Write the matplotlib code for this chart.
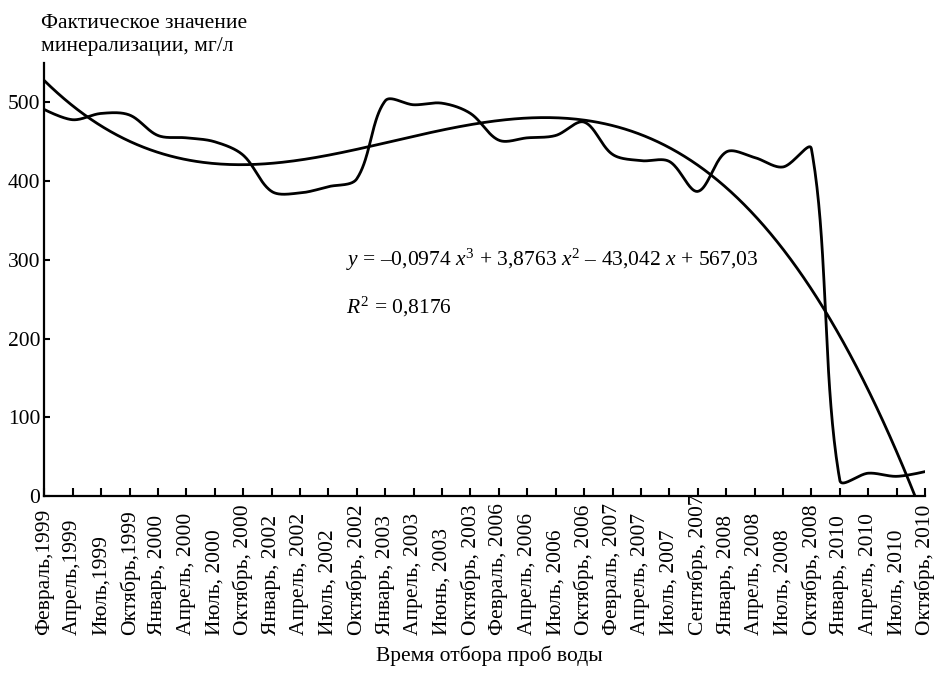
import numpy as np
import matplotlib

matplotlib.use("Agg")
import matplotlib.pyplot as plt

plt.rcParams["font.family"] = ["Liberation Serif", "DejaVu Serif"]
plt.rcParams["mathtext.fontset"] = "custom"
plt.rcParams["mathtext.rm"] = "Liberation Serif"
plt.rcParams["mathtext.it"] = "Liberation Serif:italic"

months = [
    "Февраль,1999", "Апрель,1999", "Июль,1999", "Октябрь,1999",
    "Январь, 2000", "Апрель, 2000", "Июль, 2000", "Октябрь, 2000",
    "Январь, 2002", "Апрель, 2002", "Июль, 2002", "Октябрь, 2002",
    "Январь, 2003", "Апрель, 2003", "Июнь, 2003", "Октябрь, 2003",
    "Февраль, 2006", "Апрель, 2006", "Июль, 2006", "Октябрь, 2006",
    "Февраль, 2007", "Апрель, 2007", "Июль, 2007", "Сентябрь, 2007",
    "Январь, 2008", "Апрель, 2008", "Июль, 2008", "Октябрь, 2008",
    "Январь, 2010", "Апрель, 2010", "Июль, 2010", "Октябрь, 2010",
]
mineralization = [
    491, 478, 486, 484, 458, 455, 450, 433,
    387, 385, 393, 403, 502, 497, 499, 486,
    452, 455, 458, 475, 434, 426, 425, 387,
    437, 430, 418, 441, 20, 29, 25, 31,
]
# trend line coefficients as printed on the chart (x = 1..n)
trend_coef = [-0.0974, 3.8763, -43.042, 567.03]
r_squared = "0,8176"

FONT = 15.5


def smooth(ax, xs, ys, steps=40):
    """Bezier curve through the points with tangents scaled by segment length
    (measured on screen), close to a smoothed spreadsheet line."""
    pts = ax.transData.transform(np.column_stack([xs, ys]))
    n = len(pts)
    out = []
    t = np.linspace(0, 1, steps)[:, None]
    for i in range(n - 1):
        p1, p2 = pts[i], pts[i + 1]
        p0 = pts[i - 1] if i > 0 else p1
        p3 = pts[i + 2] if i + 2 < n else p2
        d01 = np.hypot(*(p1 - p0))
        d12 = np.hypot(*(p2 - p1))
        d23 = np.hypot(*(p3 - p2))
        c1 = p1 + (p2 - p0) * d12 / (d01 + d12) / 3 if d01 > 0 else p1
        c2 = p2 - (p3 - p1) * d12 / (d12 + d23) / 3 if d23 > 0 else p2
        b = (1 - t) ** 3 * p1 + 3 * (1 - t) ** 2 * t * c1 + 3 * (1 - t) * t ** 2 * c2 + t ** 3 * p2
        out.append(b)
    out = ax.transData.inverted().transform(np.vstack(out))
    return out[:, 0], out[:, 1]


positions = np.arange(len(months))

fig = plt.figure(figsize=(9.36, 6.78), dpi=100)
ax = fig.add_axes([0.0473, 0.2684, 0.9410, 0.6386])
ax.set_xlim(0, len(months) - 1)
ax.set_ylim(0, 550)

sx, sy = smooth(ax, positions, mineralization)
ax.plot(sx, sy, color="black", linewidth=2.0)

trend_x = np.linspace(1, len(months), 400)
ax.plot(trend_x - 1, np.polyval(trend_coef, trend_x), color="black", linewidth=2.0)

ax.set_yticks([0, 100, 200, 300, 400, 500])
ax.set_xticks(positions)
# labels start on a common line below the axis and read upwards
ax.set_xticklabels(months, rotation=90, fontsize=FONT, va="bottom")
ax.tick_params(axis="x", direction="in", length=6, width=1.5, pad=100)
ax.tick_params(axis="y", direction="in", length=4.5, width=1.5, pad=3, labelsize=FONT)
for side in ("top", "right"):
    ax.spines[side].set_visible(False)
for side in ("left", "bottom"):
    ax.spines[side].set_linewidth(1.6)

fig.text(0.370, 0.6165, "$y$ = –0,0974 $x^3$ + 3,8763 $x^2$ – 43,042 $x$ + 567,03",
         fontsize=FONT, va="center")
fig.text(0.370, 0.547, "$R^2$ = " + r_squared, fontsize=FONT, va="center")

fig.text(0.044, 0.979, "Фактическое значение\nминерализации, мг/л",
         fontsize=FONT, va="top", ha="left", linespacing=1.3)
fig.text(0.523, 0.033, "Время отбора проб воды", fontsize=FONT, ha="center", va="center")

fig.savefig("out.png", dpi=100)
plt.close(fig)
